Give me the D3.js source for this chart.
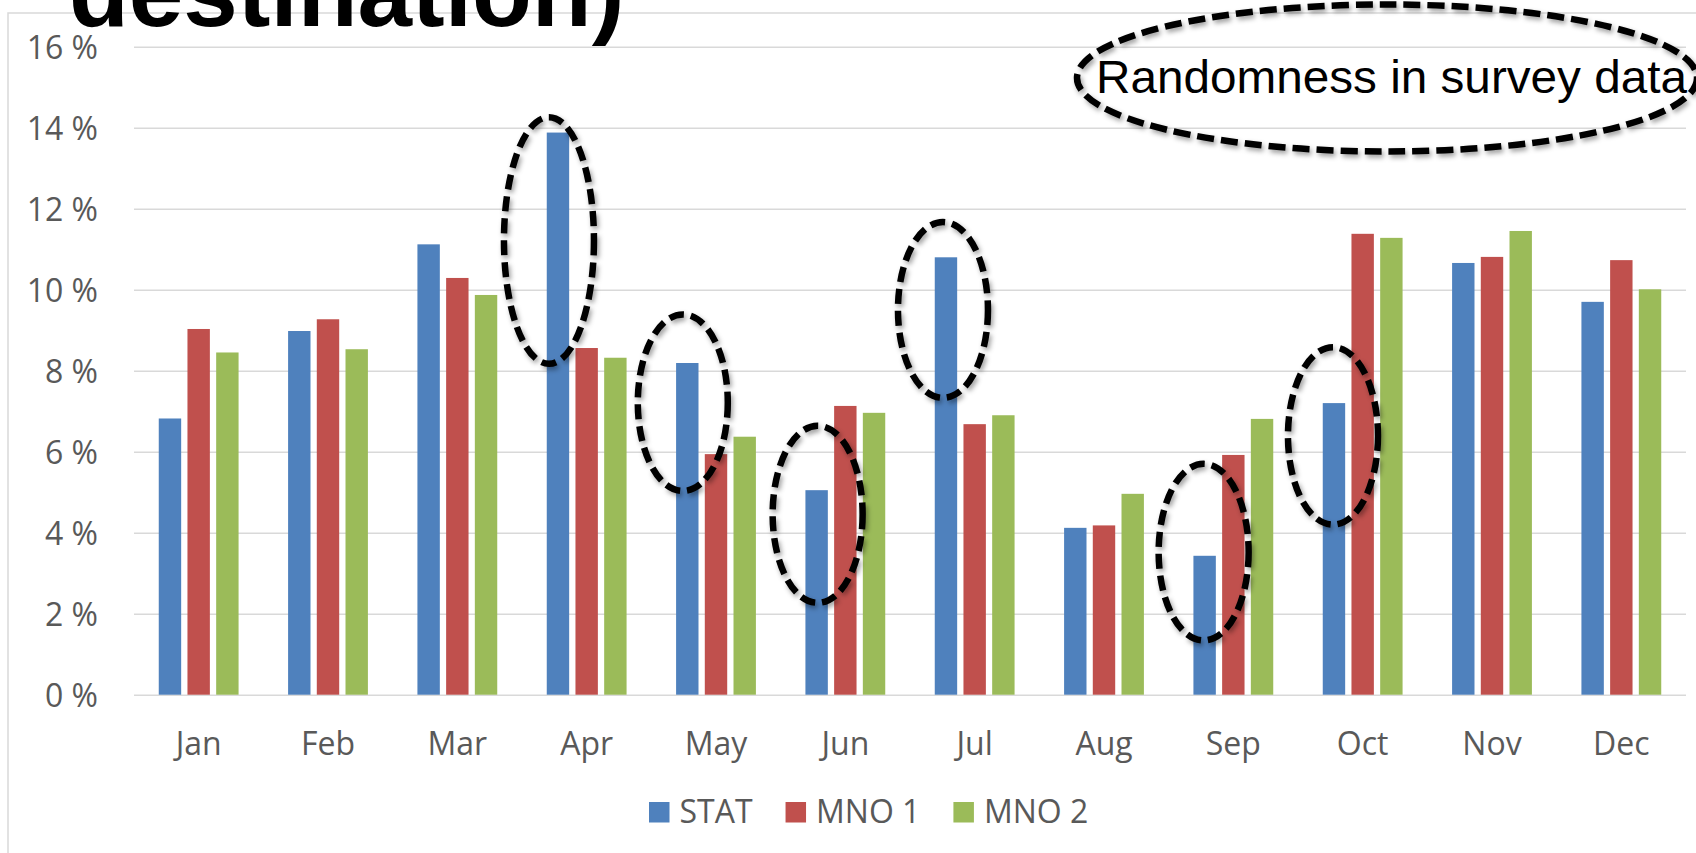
<!DOCTYPE html>
<html>
<head>
<meta charset="utf-8">
<script src="https://cdn.jsdelivr.net/npm/d3@7"></script>
<style>
  html, body { margin: 0; padding: 0; background: #fff; }
  svg { display: block; }
</style>
</head>
<body>
<svg id="chart" width="1696" height="853"></svg>
<script>
// Monthly share by source (percent)
const months = ["Jan", "Feb", "Mar", "Apr", "May", "Jun", "Jul", "Aug", "Sep", "Oct", "Nov", "Dec"];
const seriesNames = ["STAT", "MNO 1", "MNO 2"];
const statValues = [6.82, 8.98, 11.12, 13.88, 8.19, 5.05, 10.80, 4.12, 3.43, 7.20, 10.66, 9.70];
const mno1Values = [9.03, 9.27, 10.29, 8.56, 5.94, 7.13, 6.68, 4.18, 5.92, 11.38, 10.81, 10.73];
const mno2Values = [8.45, 8.53, 9.87, 8.32, 6.37, 6.96, 6.90, 4.96, 6.81, 11.28, 11.45, 10.01];
const yTicks = [0, 2, 4, 6, 8, 10, 12, 14, 16];

// Circled STAT outliers: month and the value span each ring encloses
const outlierMonths = ["Apr", "May", "Jun", "Jul", "Sep", "Oct"];
const outlierLow = [8.17, 5.03, 2.27, 7.33, 1.34, 4.20];
const outlierHigh = [14.26, 9.39, 6.64, 11.67, 5.70, 8.58];

const titleText = "destination)";
const noteText = "Randomness in survey data";

const colors = { "STAT": "#4f81bd", "MNO 1": "#c0504d", "MNO 2": "#9bbb59" };
const seriesValues = { "STAT": statValues, "MNO 1": mno1Values, "MNO 2": mno2Values };

const svg = d3.select("#chart");
const W = 1696, H = 853;
const plot = { left: 134, right: 1686, top: 46.7, bottom: 694.7 };

svg.append("rect").attr("width", W).attr("height", H).attr("fill", "#fff");

// soft drop shadow for the hand-drawn rings
const defs = svg.append("defs");
const f = defs.append("filter").attr("id", "ringShadow")
  .attr("x", "-20%").attr("y", "-20%").attr("width", "140%").attr("height", "140%");
f.append("feGaussianBlur").attr("in", "SourceAlpha").attr("stdDeviation", 2.6).attr("result", "blur");
f.append("feOffset").attr("in", "blur").attr("dx", 1.5).attr("dy", 2.5).attr("result", "off");
f.append("feFlood").attr("flood-color", "#000").attr("flood-opacity", 0.38).attr("result", "col");
f.append("feComposite").attr("in", "col").attr("in2", "off").attr("operator", "in").attr("result", "shadow");
const fm = f.append("feMerge");
fm.append("feMergeNode").attr("in", "shadow");
fm.append("feMergeNode").attr("in", "SourceGraphic");

// chart frame
svg.append("rect")
  .attr("x", 8).attr("y", 13).attr("width", W + 20).attr("height", H + 20)
  .attr("fill", "none").attr("stroke", "#d9d9d9").attr("stroke-width", 1.5);

// scales
const x0 = d3.scaleBand().domain(months).range([plot.left, plot.right]).padding(0);
const x1 = d3.scaleBand().domain(seriesNames).range([0, x0.bandwidth()])
  .paddingInner(0.2195).paddingOuter(0.8625);
const y = d3.scaleLinear().domain([0, 16]).range([plot.bottom, plot.top]);

const fontAxis = "'Open Sans', 'Noto Sans', sans-serif";

// gridlines and y labels
const yAxis = d3.axisLeft(y).tickValues(yTicks)
  .tickSize(-(plot.right - plot.left)).tickPadding(36)
  .tickFormat(d => d + " %");
const gy = svg.append("g").attr("transform", `translate(${plot.left},0)`).call(yAxis);
gy.select(".domain").remove();
gy.selectAll(".tick line").attr("stroke", "#d9d9d9").attr("stroke-width", 1.6);
gy.selectAll(".tick text")
  .attr("fill", "#595959").attr("font-family", fontAxis).attr("font-size", 32)
  .attr("dy", "0.36em");

// bars
const barLayer = svg.append("g");
seriesNames.forEach(s => {
  barLayer.selectAll(null).data(months).enter().append("rect")
    .attr("x", m => x0(m) + x1(s))
    .attr("width", x1.bandwidth())
    .attr("y", (m, i) => y(seriesValues[s][i]))
    .attr("height", (m, i) => y(0) - y(seriesValues[s][i]))
    .attr("fill", colors[s]);
});

// x axis labels
const xAxis = d3.axisBottom(x0).tickSize(0).tickPadding(38);
const gx = svg.append("g").attr("transform", `translate(0,${plot.bottom})`).call(xAxis);
gx.select(".domain").remove();
gx.selectAll(".tick text")
  .attr("fill", "#595959").attr("font-family", fontAxis).attr("font-size", 32);

// legend
const legend = svg.append("g");
const legendItems = legend.selectAll("g").data(seriesNames).enter().append("g");
legendItems.append("rect").attr("width", 20.5).attr("height", 20.5)
  .attr("y", 802).attr("fill", d => colors[d]);
legendItems.append("text").text(d => d)
  .attr("y", 822.7).attr("fill", "#595959")
  .attr("font-family", fontAxis).attr("font-size", 32);
let lx = 0;
const positions = [];
legendItems.each(function () {
  const t = d3.select(this).select("text").node().getComputedTextLength();
  positions.push(lx);
  lx += 20.5 + 10 + t + 33;
});
const legendWidth = lx - 33;
const legendStart = 647.3 + (1090 - 647.3 - legendWidth) / 2;
legendItems.each(function (d, i) {
  const g = d3.select(this);
  g.select("rect").attr("x", legendStart + positions[i]);
  g.select("text").attr("x", legendStart + positions[i] + 30.5);
});

// rings around STAT outliers
const ringNudge = { "Apr": -9, "May": -4.5, "Jun": 1, "Jul": -3, "Sep": -1, "Oct": -1 };
const rings = svg.append("g").attr("filter", "url(#ringShadow)");
outlierMonths.forEach((m, i) => {
  const cx = x0(m) + x1("STAT") + x1.bandwidth() / 2 + ringNudge[m];
  const yTop = y(outlierHigh[i]), yBot = y(outlierLow[i]);
  rings.append("ellipse")
    .attr("cx", cx).attr("cy", (yTop + yBot) / 2)
    .attr("rx", 45).attr("ry", (yBot - yTop) / 2)
    .attr("fill", "none").attr("stroke", "#000")
    .attr("stroke-width", 6.5).attr("stroke-dasharray", "15,7");
});

// callout ring with note
rings.append("ellipse")
  .attr("cx", 1387).attr("cy", 78).attr("rx", 310).attr("ry", 73.5)
  .attr("fill", "none").attr("stroke", "#000")
  .attr("stroke-width", 6.5).attr("stroke-dasharray", "17,7");
svg.append("text").text(noteText)
  .attr("x", 1096).attr("y", 93)
  .attr("font-family", "'Liberation Sans', Arial, sans-serif")
  .attr("font-size", 47).attr("fill", "#000")
  .attr("textLength", 591).attr("lengthAdjust", "spacingAndGlyphs");

// slide title fragment above the chart
svg.append("text").text(titleText)
  .attr("x", 69).attr("y", 26)
  .attr("font-family", "'Liberation Sans', Arial, sans-serif")
  .attr("font-weight", "bold").attr("font-size", 98).attr("fill", "#000");
</script>
</body>
</html>
